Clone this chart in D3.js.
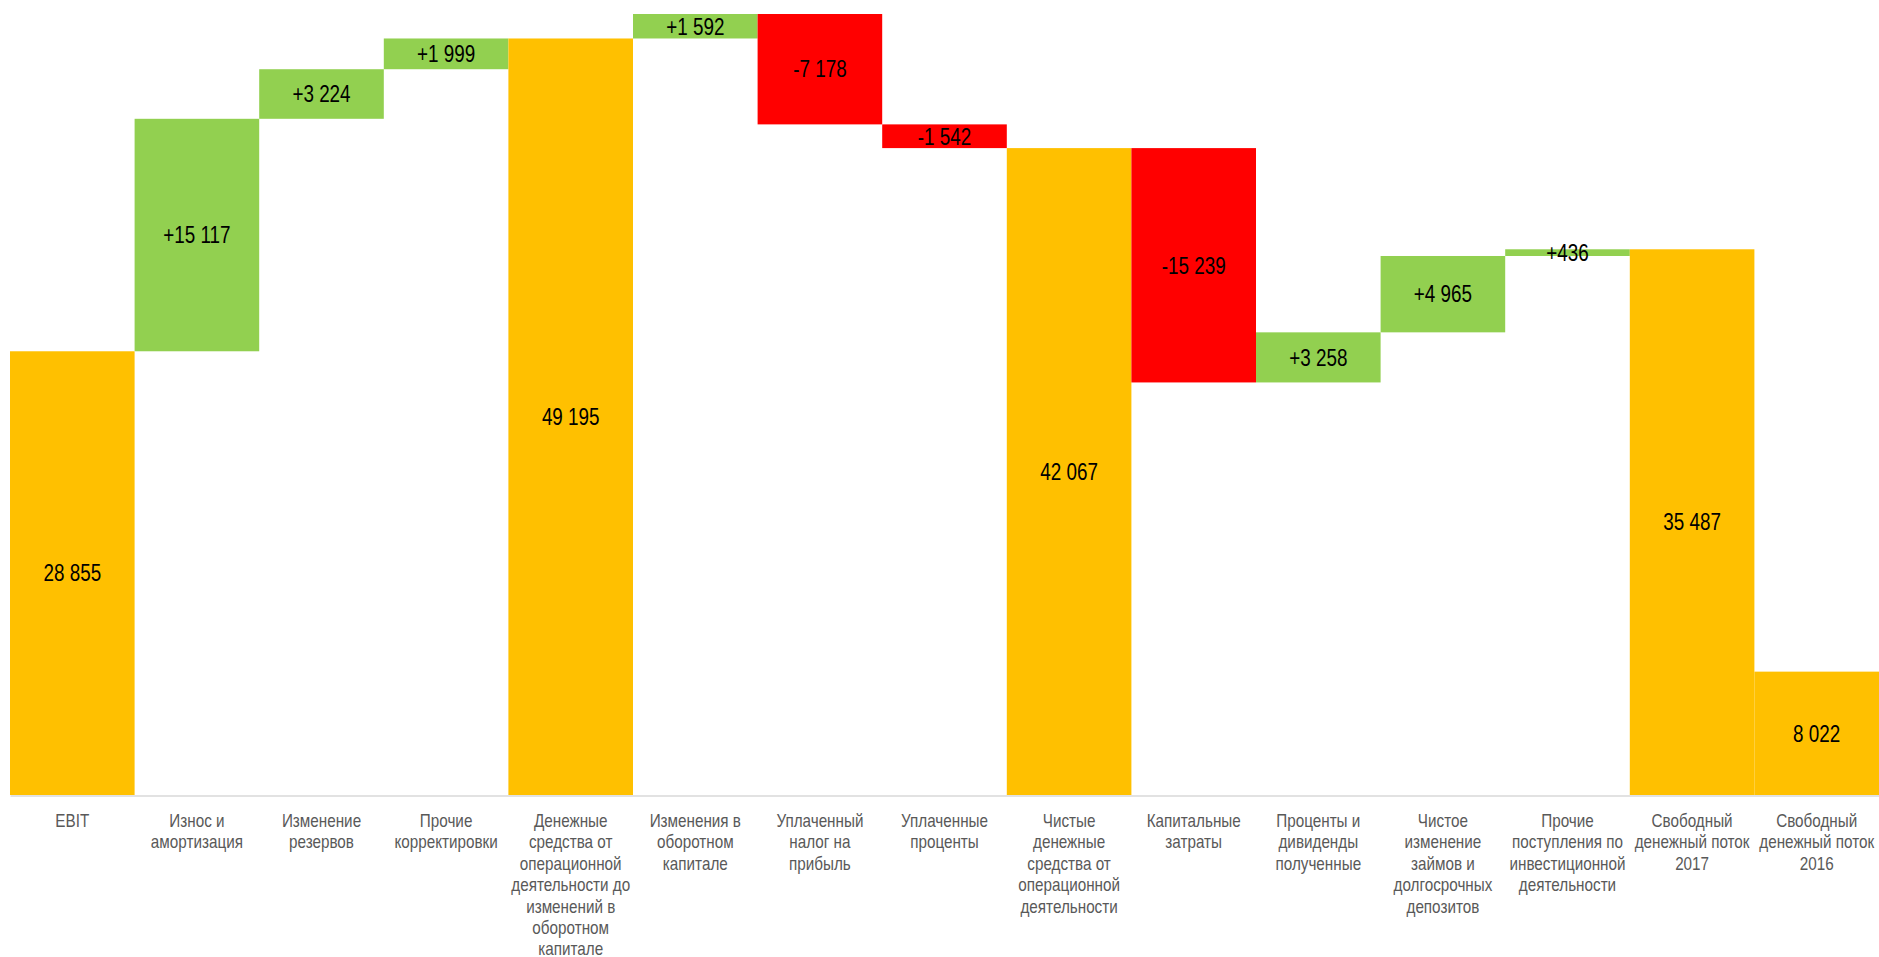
<!DOCTYPE html>
<html>
<head>
<meta charset="utf-8">
<script src="https://cdn.jsdelivr.net/npm/d3@7"></script>
<style>
  html, body { margin: 0; padding: 0; background: #fff; }
  svg { display: block; }
  .narrow { font-family: "Liberation Sans", Arial, sans-serif; }
</style>
</head>
<body>
<svg id="chart" width="1879" height="957"></svg>
<script>
// categories, "\n" marks the line breaks used under the axis
const categories = [
  "EBIT",
  "Износ и\nамортизация",
  "Изменение\nрезервов",
  "Прочие\nкорректировки",
  "Денежные\nсредства от\nоперационной\nдеятельности до\nизменений в\nоборотном\nкапитале",
  "Изменения в\nоборотном\nкапитале",
  "Уплаченный\nналог на\nприбыль",
  "Уплаченные\nпроценты",
  "Чистые\nденежные\nсредства от\nоперационной\nдеятельности",
  "Капитальные\nзатраты",
  "Проценты и\nдивиденды\nполученные",
  "Чистое\nизменение\nзаймов и\nдолгосрочных\nдепозитов",
  "Прочие\nпоступления по\nинвестиционной\nдеятельности",
  "Свободный\nденежный поток\n2017",
  "Свободный\nденежный поток\n2016"
];
const values = [28855, 15117, 3224, 1999, 49195, 1592, -7178, -1542, 42067, -15239, 3258, 4965, 436, 35487, 8022];
// total = bar from zero, delta = floating step
const kinds = ["total", "delta", "delta", "delta", "total", "delta", "delta", "delta", "total",
               "delta", "delta", "delta", "delta", "total", "total"];

const colors = { total: "#FFC000", up: "#92D050", down: "#FF0000" };
const narrow = 0.82; // no Arial Narrow here, so squeeze Liberation Sans

// build waterfall steps
let running = 0;
const steps = values.map((v, i) => {
  let start, end;
  if (kinds[i] === "total") { start = 0; end = v; }
  else { start = running; end = running + v; }
  running = end;
  return { i, v, kind: kinds[i], start, end };
});

const ru = d3.formatLocale({ decimal: ",", thousands: "\u00a0", grouping: [3], currency: ["", ""], minus: "-" });
const fmtTotal = ru.format(",");
const fmtDelta = ru.format("+,");

const svg = d3.select("#chart");
const x = d3.scaleBand().domain(d3.range(categories.length)).range([10, 1879]).padding(0);
const y = d3.scaleLinear()
  .domain([0, d3.max(steps, d => Math.max(d.start, d.end))])
  .range([795, 14]);

// bars
svg.append("g").selectAll("rect")
  .data(steps)
  .join("rect")
    .attr("x", d => x(d.i))
    .attr("width", x.bandwidth())
    .attr("y", d => y(Math.max(d.start, d.end)))
    .attr("height", d => Math.abs(y(d.start) - y(d.end)))
    .attr("fill", d => d.kind === "total" ? colors.total : (d.v >= 0 ? colors.up : colors.down));

// value labels, centred in each bar
svg.append("g").selectAll("text")
  .data(steps)
  .join("text")
    .attr("class", "narrow")
    .attr("transform", d => `translate(${x(d.i) + x.bandwidth() / 2},${(y(d.start) + y(d.end)) / 2}) scale(${narrow},1)`)
    .attr("dy", "0.36em")
    .attr("text-anchor", "middle")
    .style("font-size", "23px")
    .style("fill", "#000")
    .text(d => d.kind === "total" ? fmtTotal(d.v) : fmtDelta(d.v));

// category axis
const axis = svg.append("g")
  .attr("transform", "translate(0,795.5)")
  .call(d3.axisBottom(x).tickSize(0).tickFormat(""));
axis.select(".domain").attr("stroke", "#d9d9d9").attr("stroke-width", 1.5);

axis.selectAll(".tick text").remove();
axis.selectAll(".tick").append("text")
  .attr("class", "narrow")
  .attr("text-anchor", "middle")
  .attr("transform", `scale(${narrow},1)`)
  .style("font-size", "18.6px")
  .style("fill", "#595959")
  .each(function(i) {
    const lines = categories[i].split("\n");
    d3.select(this).selectAll("tspan")
      .data(lines)
      .join("tspan")
        .attr("x", 0)
        .attr("y", (l, k) => 31.5 + k * 21.4)
        .text(l => l);
  });
</script>
</body>
</html>
